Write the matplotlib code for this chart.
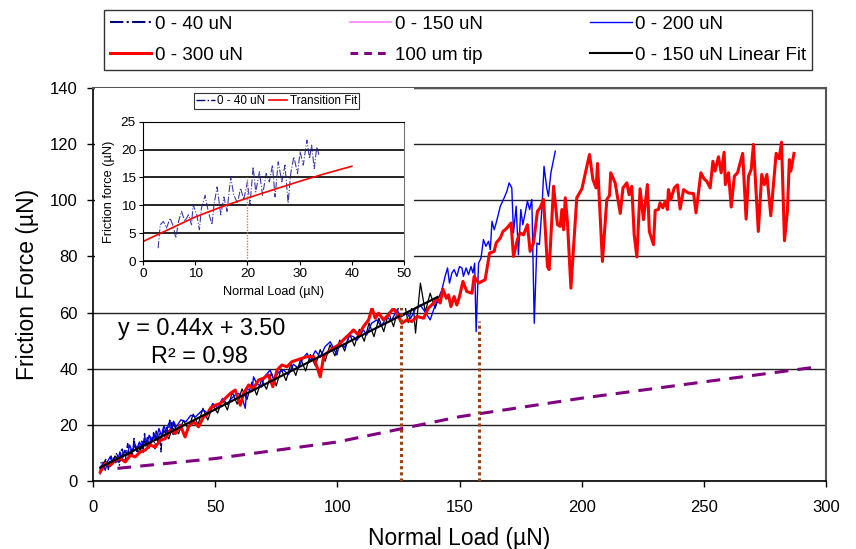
import matplotlib
matplotlib.use('Agg')
import matplotlib.pyplot as plt
from matplotlib.lines import Line2D
from matplotlib.patches import Rectangle

plt.rcParams['font.family'] = ['Liberation Sans', 'DejaVu Sans']

# ---- data ----
# 0 - 40 uN run (also shown in the inset)
x_40 = [2.9, 3.3, 3.9, 4.5, 5.2, 5.8, 6.3, 6.8, 7.4, 8.0, 8.7, 9.3, 9.6, 10.3, 10.8,
        11.2, 11.9, 12.5, 13.2, 13.6, 14.2, 14.9, 15.5, 16.1, 16.8, 17.4, 18.1, 18.7,
        19.3, 20.0, 20.5, 21.1, 21.6, 22.3, 22.9, 23.6, 24.2, 24.8, 25.3, 25.9, 26.6,
        27.2, 27.8, 28.3, 28.9, 29.6, 30.1, 30.7, 31.4, 31.9, 32.3, 32.8, 33.3, 33.7]
y_40 = [2.3, 6.5, 7.1, 5.9, 7.7, 6.2, 4.1, 7.1, 8.9, 7.1, 8.3, 6.5, 10.1, 8.3, 5.6,
        9.5, 11.8, 8.9, 6.5, 10.1, 13.3, 8.3, 11.5, 8.9, 15.1, 11.8, 10.4, 13.1,
        11.0, 14.2, 10.1, 16.9, 12.4, 16.0, 11.8, 15.7, 14.2, 17.2, 11.5, 17.8, 14.2,
        17.2, 10.4, 15.7, 18.7, 15.7, 19.6, 17.2, 21.7, 18.4, 20.8, 16.6, 20.5, 19.0]

# 0 - 150 uN run
x_150 = [3, 5, 7, 9, 11, 13, 15, 17, 19, 21, 23, 25, 27, 29, 31, 33, 35, 37, 39, 41,
         43, 45, 47, 49, 51, 53, 55, 57, 59, 61, 63, 65, 67, 69, 71, 73, 75, 77, 79, 81,
         83, 85, 87, 89, 91, 93, 95, 97, 99, 101, 103, 105, 107, 109, 111, 113, 115, 117,
         119, 121, 123, 125, 127, 129, 131, 132, 134, 136, 138, 140, 141]
y_150 = [4.0, 7.2, 5.1, 8.9, 7.0, 10.8, 8.6, 12.5, 10.2, 14.1, 11.8, 16.2, 13.5, 17.9,
         15.0, 20.3, 16.8, 21.6, 18.5, 23.8, 20.1, 25.9, 21.7, 27.0, 24.2, 29.1, 25.3,
         31.6, 27.4, 32.8, 29.0, 35.2, 30.6, 36.1, 32.7, 38.4, 33.9, 39.9, 35.8, 41.7,
         37.6, 43.5, 39.2, 45.1, 41.0, 46.8, 42.7, 48.5, 44.6, 50.2, 46.3, 52.4, 48.1,
         54.0, 49.8, 56.3, 51.4, 58.0, 53.2, 60.1, 55.0, 61.8, 65.7, 56.4, 63.5, 52.7,
         70.5, 60.2, 66.9, 61.5, 64.0]

# 0 - 200 uN run
x_200 = [3, 4, 5, 6, 7, 8, 9, 10, 11, 12, 13, 14, 15, 16, 17, 18, 19, 20, 21, 22, 23,
         24, 25, 26, 27, 28, 29, 30, 31, 32, 33, 34, 36, 38, 40, 42, 44, 45, 47, 49, 51,
         53, 55, 56, 58, 59.6, 61, 62.3, 63, 65, 65.7, 67, 69, 70, 72.5, 74, 76, 78, 80,
         82, 84, 86, 87.6, 89, 91, 93, 95, 97.1, 99.8, 101, 103, 105, 106.6, 108, 110.7,
         112, 114, 116.2, 118, 120.3, 122, 124.4, 126, 128.5, 130, 132, 133.9, 136, 138.0,
         139.4, 140.5, 141.4, 142.8, 144.1, 145.1, 145.9, 146.9, 147.8, 148.9, 150.0,
         151.0, 151.6, 152.7, 153.7, 154.7, 155.5, 156.2, 156.8, 157.8, 158.8, 159.8,
         160.8, 161.9, 162.6, 163.3, 164.2, 165.0, 165.7, 166.7, 168.3, 169.4, 170.3,
         171.4, 172.1, 173.2, 174.1, 175.1, 175.9, 176.9, 177.8, 178.7, 179.6, 180.6,
         181.7, 182.7, 183.7, 184.6, 185.7, 186.4, 187.4, 189.2]
y_200 = [4.5, 6.2, 3.8, 7.0, 8.6, 5.9, 8.1, 6.8, 10.4, 8.0, 10.9, 9.2, 12.8, 10.5, 13.4,
         11.6, 13.9, 12.2, 15.0, 13.1, 16.3, 14.0, 16.9, 15.2, 18.7, 16.1, 19.6, 17.4,
         20.5, 18.0, 21.3, 19.3, 21.8, 21.1, 23.4, 22.9, 24.6, 25.3, 24.1, 27.6, 26.0,
         29.4, 27.2, 28.8, 30.5, 31.2, 29.8, 25.9, 33.0, 31.8, 37.1, 34.8, 33.5, 37.0,
         39.5, 36.2, 38.8, 39.5, 37.9, 41.6, 40.2, 43.8, 45.5, 42.9, 46.4, 44.1, 47.9,
         49.6, 44.9, 49.3, 47.6, 51.9, 51.4, 50.1, 53.8, 52.0, 56.2, 57.4, 55.1, 58.6,
         56.9, 61.0, 58.4, 59.8, 57.9, 61.5, 62.7, 60.1, 57.4, 61.0, 63.4, 65.1, 68.1,
         72.9, 75.9, 70.5, 74.1, 75.3, 72.9, 76.4, 75.9, 72.9, 75.9, 73.5, 76.4, 74.1,
         77.6, 53.2, 77.6, 79.4, 86.0, 83.6, 85.4, 82.4, 92.5, 89.5, 91.9, 94.3, 97.9,
         100.9, 103.2, 106.2, 104.4, 88.4, 97.9, 80.6, 96.7, 91.3, 95.5, 99.7, 96.7,
         100.3, 56.2, 84.8, 84.2, 96.7, 112.1, 104.4, 101.4, 109.8, 117.5]

# 0 - 300 uN run
x_300 = [3.0, 5.0, 7.1, 9.1, 11.2, 13.2, 15.3, 17.3, 19.4, 21.4, 23.4, 25.5, 27.5, 29.6,
         31.6, 33.7, 35.7, 37.7, 39.1, 41.2, 43.2, 45.3, 46.6, 48.0, 50.0, 52.1, 54.1,
         56.2, 58.2, 60.3, 61.6, 63.7, 65.7, 67.8, 69.8, 71.8, 73.6, 75.3, 77.3, 79.4,
         81.4, 83.5, 85.5, 87.6, 90.3, 93.0, 94.4, 96.4, 98.4, 100.5, 102.5, 104.6, 106.6,
         108.7, 110.7, 112.8, 114.2, 115.5, 116.9, 118.9, 121.0, 123.0, 125.0, 126.4,
         128.5, 130.5, 132.6, 135.3, 137.3, 139.4, 140.8, 142.1, 143.2, 144.6, 145.5,
         146.5, 147.8, 148.9, 150.0, 151.4, 153.0, 155.1, 156.0, 157.8, 160.5, 162.3,
         164.2, 165.0, 166.7, 167.8, 169.4, 171.1, 172.1, 173.7, 174.8, 176.2, 177.8,
         178.9, 180.3, 181.9, 183.0, 184.4, 186.0, 186.7, 188.5, 190.1, 191.2, 191.9,
         192.6, 193.3, 194.2, 195.6, 198.0, 200.1, 203.2, 204.6, 205.9, 206.5, 208.5,
         210.3, 211.4, 211.9, 213.7, 215.8, 216.9, 218.5, 219.4, 220.5, 221.5, 222.6,
         223.9, 225.3, 226.9, 227.7, 229.4, 230.1, 231.4, 232.1, 233.2, 234.2, 235.1,
         235.5, 236.5, 237.9, 239.2, 240.3, 241.7, 243.7, 245.8, 246.8, 248.8, 250.1,
         251.2, 252.6, 253.7, 254.6, 256.0, 257.1, 258.3, 258.8, 260.1, 261.2, 262.5,
         263.8, 265.9, 267.3, 268.3, 269.4, 270.3, 272.3, 273.7, 274.8, 275.8, 277.4,
         279.6, 280.8, 281.8, 283.0, 284.2, 285.0, 285.6, 286.9]
y_300 = [3.2, 6.2, 5.6, 7.4, 8.0, 6.8, 9.2, 8.6, 10.4, 11.0, 12.8, 12.1, 14.5, 15.1,
         18.1, 16.9, 19.9, 15.7, 19.3, 21.1, 19.3, 22.9, 23.5, 25.9, 27.0, 27.6, 29.4,
         31.2, 32.4, 27.0, 31.2, 34.2, 33.0, 36.0, 36.6, 37.8, 33.6, 39.5, 41.3, 40.7,
         42.5, 43.1, 43.7, 44.3, 44.3, 37.1, 44.3, 46.1, 47.3, 48.5, 50.3, 52.0, 53.8,
         52.0, 55.0, 57.4, 61.6, 58.0, 59.8, 57.4, 59.3, 61.6, 58.6, 56.2, 57.4, 56.8,
         58.6, 58.0, 61.6, 63.4, 65.1, 63.4, 68.4, 65.1, 66.3, 62.1, 65.7, 62.7, 65.7,
         71.1, 67.5, 66.9, 72.9, 70.5, 71.7, 81.2, 81.8, 84.8, 86.6, 88.9, 90.1, 91.9,
         80.0, 86.0, 88.4, 87.7, 91.3, 81.8, 84.8, 96.1, 97.3, 100.3, 76.4, 75.3, 105.0,
         91.3, 90.7, 96.7, 89.5, 100.9, 91.9, 68.7, 100.9, 104.1, 116.3, 107.4, 104.4,
         113.1, 78.2, 100.3, 101.7, 109.8, 106.2, 95.3, 104.4, 106.2, 102.0, 105.0, 87.7,
         79.8, 104.1, 93.1, 105.6, 88.9, 84.2, 96.4, 96.7, 99.1, 97.3, 99.7, 96.7, 103.8,
         100.3, 104.4, 105.5, 96.9, 103.8, 102.6, 102.4, 95.5, 109.8, 107.6, 106.8, 104.4,
         113.9, 110.4, 115.5, 109.8, 117.1, 105.6, 109.8, 97.6, 108.6, 109.8, 116.7, 93.3,
         108.6, 111.0, 119.9, 88.9, 109.2, 105.6, 109.2, 94.5, 116.7, 114.8, 120.7, 85.6,
         96.1, 114.5, 110.4, 116.7]

# 100 um tip reference curve
x_tip = [10, 50, 100, 150, 200, 250, 296]
y_tip = [4.5, 8.0, 13.9, 22.9, 29.5, 35.3, 40.6]

# linear fit of the 0 - 150 uN run
fit_slope = 0.44
fit_icept = 3.50
fit_r2 = 0.98
fit_range = [3, 141]

# transition points (dotted markers)
trans_x = [126, 158]
trans_top = [64.5, 57]

# inset: transition fit
x_tfit = [0, 5, 10, 15, 20, 25, 30, 35, 40]
y_tfit = [3.5, 5.7, 7.9, 9.7, 11.3, 12.8, 14.3, 15.7, 17.0]
inset_trans_x = 20
inset_trans_top = 15

W, H = 856, 549
fig = plt.figure(figsize=(W / 100, H / 100), dpi=100)

# ---- main axes ----
ax = fig.add_axes([93 / W, 1 - 481 / H, (826 - 93) / W, (481 - 88) / H])

ax.plot(x_40, y_40, color='#000080', ls='-.', lw=1.0, zorder=3)
ax.plot(x_150, y_150, color='black', lw=0.9, zorder=3)
ax.plot(x_200, y_200, color='#0000ff', lw=1.0, zorder=4)
ax.plot(x_300, y_300, color='#ff0000', lw=2.2, zorder=5)
ax.plot(fit_range, [fit_slope * v + fit_icept for v in fit_range],
        color='black', lw=1.6, zorder=6)
ax.plot(x_tip, y_tip, color='#800080', lw=2.2, dashes=(4.5, 3), zorder=6)
for tx, tt in zip(trans_x, trans_top):
    ax.plot([tx, tx], [0, tt], color='#a0400a', lw=2.2, ls=(0, (1, 1)), zorder=7)

ax.text(10.4, 54.5, f'y = {fit_slope:.2f}x + {fit_icept:.2f}', fontsize=16.8,
        va='center', ha='left', zorder=8)
ax.text(43.5, 44.2, f'R\u00b2 = {fit_r2:.2f}', fontsize=16.8,
        va='center', ha='center', zorder=8)

ax.set_xlim(0, 300)
ax.set_ylim(0, 140)
ax.set_xticks(range(0, 301, 50))
ax.set_yticks(range(0, 141, 20))
ax.tick_params(labelsize=12, length=4, width=1, direction='out')
ax.tick_params(axis='x', pad=10)
ax.tick_params(axis='y', pad=7)
ax.yaxis.grid(True, color='#222222', lw=1)
ax.set_axisbelow(True)
ax.set_xlabel('Normal Load (\u00b5N)', fontsize=16.5, labelpad=8)
ax.set_ylabel('Friction Force (\u00b5N)', fontsize=16.5, labelpad=8)
for s in ['left', 'bottom']:
    ax.spines[s].set_color('black')
    ax.spines[s].set_linewidth(1.2)
for s in ['top', 'right']:
    ax.spines[s].set_color('#555555')
    ax.spines[s].set_linewidth(1.5)

# main legend (row order via proxy handles)
handles = [
    Line2D([], [], color='#000080', ls='-.', lw=1.5),
    Line2D([], [], color='#ff0000', lw=2.2),
    Line2D([], [], color='#ff80ff', lw=1.2),
    Line2D([], [], color='#800080', lw=2.2, dashes=(2.5, 2)),
    Line2D([], [], color='#0000ff', lw=1.0),
    Line2D([], [], color='black', lw=1.5),
]
labels = ['0 - 40 uN', '0 - 300 uN', '0 - 150 uN', '100 um tip',
          '0 - 200 uN', '0 - 150 uN Linear Fit']
leg = fig.legend(handles, labels, ncol=3, loc='upper left',
                 bbox_to_anchor=(104 / W, 1 - 66 / H, 708 / W, 56 / H),
                 mode='expand', fontsize=13.5, frameon=True, fancybox=False,
                 edgecolor='black', handlelength=2.2, handletextpad=0.2,
                 borderaxespad=0, borderpad=0.3, labelspacing=0.75)
leg.get_frame().set_linewidth(1.0)

# ---- inset ----
fig.add_artist(Rectangle((95 / W, 1 - 308 / H), (414 - 95) / W, (308 - 88) / H,
                         transform=fig.transFigure, facecolor='white',
                         edgecolor='none', zorder=1))
ins = fig.add_axes([143 / W, 1 - 261 / H, 261 / W, 139.3 / H], zorder=2)
ins.plot(x_40, y_40, color='#1a1a99', ls='-.', lw=0.8, alpha=0.85)
ins.plot(x_tfit, y_tfit, color='#ff0000', lw=1.2)
ins.plot([inset_trans_x, inset_trans_x], [0, inset_trans_top], color='#c8805a',
         lw=1.0, ls=(0, (1, 1)))
ins.set_xlim(0, 50)
ins.set_ylim(0, 25)
ins.set_xticks(range(0, 51, 10))
ins.set_yticks(range(0, 26, 5))
ins.tick_params(labelsize=9.7, length=3, direction='out', pad=2)
ins.yaxis.grid(True, color='black', lw=1.2)
ins.set_axisbelow(True)
ins.set_xlabel('Normal Load (\u00b5N)', fontsize=9.2, labelpad=4)
ins.set_ylabel('Friction force (\u00b5N)', fontsize=9.2, labelpad=4)
for s in ins.spines.values():
    s.set_color('black')
ins.spines['right'].set_color('#777777')

ileg = ins.legend([Line2D([], [], color='#000080', ls='-.', lw=1.0),
                   Line2D([], [], color='#ff0000', lw=1.2)],
                  ['0 - 40 uN', 'Transition Fit'], ncol=2, loc='center',
                  bbox_to_anchor=(276.5 / W, 1 - 101 / H),
                  bbox_transform=fig.transFigure, fontsize=8.4, frameon=True,
                  fancybox=False, edgecolor='black', handlelength=1.6,
                  handletextpad=0.2, columnspacing=0.3, borderpad=0.2,
                  borderaxespad=0)
ileg.get_frame().set_linewidth(0.8)

fig.savefig('out.png', dpi=100)
